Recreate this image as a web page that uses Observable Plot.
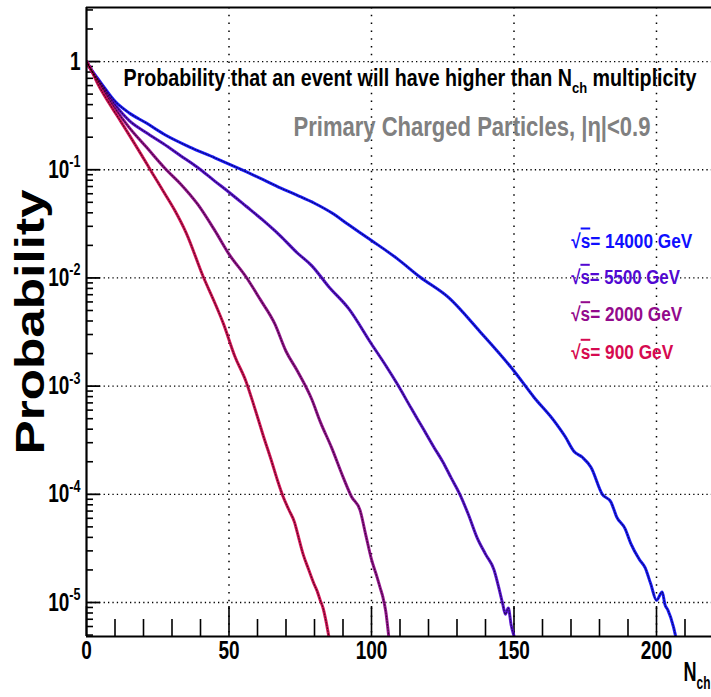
<!DOCTYPE html>
<html><head><meta charset="utf-8">
<script src="https://cdn.jsdelivr.net/npm/d3@7"></script>
<script src="https://cdn.jsdelivr.net/npm/@observablehq/plot@0.6"></script>
<style>
html,body{margin:0;padding:0;background:#fff;overflow:hidden;}
#chart svg{display:block;}
text{white-space:pre;}
</style></head><body><div id="chart"></div>
<script>
// ---- data ----
const seriesNames = ["14000", "5500", "2000", "900"];
const seriesColors = ["#0f0fff", "#5208d2", "#930a8c", "#d60a50"];
const legendLabels = ["√s= 14000 GeV", "√s= 5500 GeV", "√s= 2000 GeV", "√s= 900 GeV"];

const nch14000 = [0, 2, 5, 10, 15, 21, 28, 36, 45, 50, 56, 62, 68, 74, 80, 86, 92, 100, 109, 117, 127, 138, 150, 157, 164, 168, 171, 174, 177, 181, 184, 186, 189, 191, 194, 196, 198, 200, 202, 203, 204, 206, 207];
const prob14000 = [1, 0.82, 0.64, 0.43, 0.335, 0.27, 0.207, 0.163, 0.129, 0.113, 0.096, 0.081, 0.068, 0.058, 0.049, 0.040, 0.031, 0.0222, 0.0151, 0.0102, 0.0066, 0.0032, 0.00138, 0.00079, 0.00048, 0.00034, 0.00025, 0.00022, 0.000178, 0.000100, 0.000085, 0.000062, 0.000048, 0.000035, 0.000025, 0.000021, 0.0000148, 0.0000105, 0.0000125, 0.0000095, 0.0000085, 0.0000059, 0.0000045];

const nch5500 = [0, 2, 5, 10, 15, 21, 27, 33, 39, 45, 50, 56, 62, 68, 74, 79, 85, 92, 100, 105, 109, 114, 118, 122, 125, 128, 131, 134, 137, 140, 143, 145, 146, 147, 148, 149, 150];
const prob5500 = [1, 0.81, 0.62, 0.40, 0.285, 0.22, 0.174, 0.135, 0.105, 0.0785, 0.062, 0.046, 0.034, 0.0245, 0.017, 0.0130, 0.0083, 0.0052, 0.00245, 0.00155, 0.00105, 0.00062, 0.00041, 0.00027, 0.00020, 0.000141, 0.000100, 0.000065, 0.000040, 0.000028, 0.000020, 0.0000126, 0.0000098, 0.0000078, 0.0000089, 0.0000062, 0.0000049];

const nch2000 = [0, 2, 5, 10, 15, 21, 28, 33, 39, 45, 50, 56, 61, 66, 70, 74, 79, 82, 86, 90, 93, 96, 98, 100, 102, 103, 104, 105, 106];
const prob2000 = [1, 0.80, 0.60, 0.37, 0.245, 0.162, 0.100, 0.074, 0.048, 0.0275, 0.0166, 0.0102, 0.0063, 0.0038, 0.0021, 0.00138, 0.00076, 0.00047, 0.00027, 0.000145, 0.000095, 0.000071, 0.000042, 0.000025, 0.000017, 0.0000138, 0.0000112, 0.0000083, 0.0000050];

const nch900 = [0, 2, 4, 8, 12, 19, 23, 27, 31, 35, 41, 45, 48, 52, 56, 59, 62, 65, 67, 69, 71, 73, 74, 76, 78, 80, 81, 82, 83, 84, 85];
const prob900 = [1, 0.80, 0.62, 0.41, 0.28, 0.141, 0.094, 0.063, 0.042, 0.026, 0.0102, 0.0059, 0.0038, 0.0019, 0.0011, 0.00063, 0.00035, 0.00020, 0.000135, 0.000095, 0.000072, 0.000055, 0.000044, 0.000028, 0.000020, 0.0000145, 0.0000126, 0.0000105, 0.0000089, 0.0000068, 0.0000049];

const xDomain = [0, 219.3];
const yDomain = [4.85e-6, 3.16];
const xMajorTicks = [0, 50, 100, 150, 200];
const xGridTicks = [50, 100, 150, 200];
const xMinorTicks = [10, 20, 30, 40, 60, 70, 80, 90, 110, 120, 130, 140, 160, 170, 180, 190, 210];
const yMajorTicks = [1, 0.1, 0.01, 0.001, 0.0001, 0.00001];
const yDecades = [1e-6, 1e-5, 1e-4, 1e-3, 1e-2, 1e-1, 1];
const yMinorMultipliers = [2, 3, 4, 5, 6, 7, 8, 9];

const titleText = "Probability that an event will have higher than N_{ch} multiplicity";
const subtitleText = "Primary Charged Particles, |η|<0.9";
const yTitle = "Probability";
const xTitle = "N_{ch}";

// ---- build table ----
const nchArrays = [nch14000, nch5500, nch2000, nch900];
const probArrays = [prob14000, prob5500, prob2000, prob900];
const rows = [];
seriesNames.forEach((s, i) => nchArrays[i].forEach((n, j) => rows.push({series: s, nch: n, prob: probArrays[i][j]})));
const yMinorTicks = [];
yDecades.forEach(d => yMinorMultipliers.forEach(m => { const v = m * d; if (v > yDomain[0] && v < yDomain[1]) yMinorTicks.push(v); }));
const legendRows = seriesNames.map((s, i) => ({series: s, label: legendLabels[i], idx: i}));

// ---- layout ----
const W = 711, H = 697, mL = 86, mR = 0, mT = 7, mB = 61;
const frameW = W - mL - mR, frameH = H - mT - mB;
const font = "'Liberation Sans', Arial, Helvetica, sans-serif";
const legendDy = [240, 276.3, 313.7, 351.3];

const chart = Plot.plot({
  width: W, height: H,
  marginLeft: mL, marginRight: mR, marginTop: mT, marginBottom: mB,
  style: {fontFamily: font, background: "#fff", overflow: "visible"},
  x: {domain: xDomain, label: null},
  y: {type: "log", domain: yDomain, label: null},
  color: {domain: seriesNames, range: seriesColors},
  marks: [
    Plot.ruleY(yMajorTicks, {y: d => d, stroke: "#000", strokeWidth: 1.3, strokeDasharray: "1.3,3.1"}),
    Plot.ruleX(xGridTicks, {x: d => d, stroke: "#000", strokeWidth: 1.5, strokeDasharray: "1.5,6.3"}),
    Plot.tickX(xMinorTicks, {x: d => d, insetTop: frameH - 17, stroke: "#000", strokeWidth: 1.6}),
    Plot.tickX(xMajorTicks, {x: d => d, insetTop: frameH - 30, stroke: "#000", strokeWidth: 1.6}),
    Plot.tickY(yMinorTicks, {y: d => d, insetRight: frameW - 7, stroke: "#000", strokeWidth: 1.6}),
    Plot.tickY(yMajorTicks, {y: d => d, insetRight: frameW - 14, stroke: "#000", strokeWidth: 1.8}),
    Plot.line(rows, {x: "nch", y: "prob", z: "series", stroke: "series", strokeWidth: 3, strokeOpacity: 0.95, curve: "monotone-x", clip: true, strokeLinejoin: "round"}),
    Plot.line(rows, {x: "nch", y: "prob", z: "series", stroke: "#000", strokeWidth: 1.1, strokeOpacity: 0.6, strokeDasharray: "1.2,1.65", curve: "monotone-x", clip: true}),
    Plot.ruleX([xDomain[0]], {x: d => d, stroke: "#000", strokeWidth: 2.2}),
    Plot.ruleY(yDomain, {y: d => d, stroke: "#000", strokeWidth: 2.2}),
    Plot.axisX({ticks: xMajorTicks, tickSize: 0, tickPadding: 5, tickFormat: d => String(d), fontSize: 25, fontWeight: "bold", fill: "#000", label: null}),
    Plot.axisY({ticks: yMajorTicks, tickSize: 0, tickPadding: 6, tickFormat: d => d === 1 ? "1" : `10^{${Math.round(Math.log10(d))}}`, fontSize: 25, fontWeight: "bold", fill: "#000", label: null}),
    Plot.text([titleText], {frameAnchor: "top-left", dx: 37, dy: 78, text: d => d, textAnchor: "start", lineAnchor: "bottom", fontSize: 23, fontWeight: "bold", fill: "#000"}),
    Plot.text([subtitleText], {frameAnchor: "top-left", dx: 207, dy: 128, text: d => d, textAnchor: "start", lineAnchor: "bottom", fontSize: 28, fontWeight: "bold", fill: "#808080"}),
    Plot.text([yTitle], {frameAnchor: "left", dx: -43, text: d => d, rotate: -90, textAnchor: "middle", lineAnchor: "bottom", fontSize: 40, fontWeight: "bold", fill: "#000"}),
    Plot.text([xTitle], {frameAnchor: "bottom-right", dx: -1, dy: 44, text: d => d, textAnchor: "end", lineAnchor: "bottom", fontSize: 28, fontWeight: "bold", fill: "#000"}),
    ...legendRows.map(r => Plot.text([r], {frameAnchor: "top-left", dx: 484.7, dy: legendDy[r.idx], text: "label", fill: "series", textAnchor: "start", lineAnchor: "bottom", fontSize: 20, fontWeight: "bold"}))
  ]
});
document.getElementById("chart").append(chart);

// ---- rich text: sub/superscripts and overline ----
function rich(el, fs) {
  const s = el.textContent;
  const sel = d3.select(el);
  if (s.startsWith("√s")) {
    el.textContent = "";
    sel.append("tspan").text("√");
    sel.append("tspan").attr("text-decoration", "overline").style("text-decoration", "overline").text("s");
    sel.append("tspan").text(s.slice(2));
    return;
  }
  if (!/[_^]\{/.test(s)) return;
  const re = /([_^])\{([^}]*)\}/g;
  const parts = [];
  let last = 0, m;
  while ((m = re.exec(s))) {
    parts.push([s.slice(last, m.index), 0]);
    parts.push([m[2], m[1] === "_" ? 1 : -1]);
    last = re.lastIndex;
  }
  parts.push([s.slice(last), 0]);
  el.textContent = "";
  let cur = 0;
  for (const [t, k] of parts) {
    if (!t) continue;
    const target = k === 1 ? 0.32 * fs : k === -1 ? -0.42 * fs : 0;
    const ts = sel.append("tspan").text(t);
    if (target - cur) ts.attr("dy", target - cur);
    if (k) ts.attr("font-size", 0.66 * fs);
    cur = target;
  }
}
function squeeze(el, len) {
  el.setAttribute("textLength", len);
  el.setAttribute("lengthAdjust", "spacingAndGlyphs");
}
const targetWidths = new Map([[titleText, 573], [subtitleText, 357], [yTitle, 265], [xTitle, 27],
  [legendLabels[0], 121], [legendLabels[1], 108.7], [legendLabels[2], 111], [legendLabels[3], 102]]);
const svg = d3.select(chart);
svg.selectAll("text").each(function() {
  const s = this.textContent;
  if (!s) return;
  const g = this.closest("g[aria-label]");
  const lab = g ? g.getAttribute("aria-label") : "";
  const fs = parseFloat(getComputedStyle(this).fontSize) || 20;
  const w = targetWidths.get(s);
  rich(this, fs);
  if (w) squeeze(this, w);
  else if (lab.includes("tick label")) squeeze(this, this.getComputedTextLength() * 0.76);
});
</script></body></html>
